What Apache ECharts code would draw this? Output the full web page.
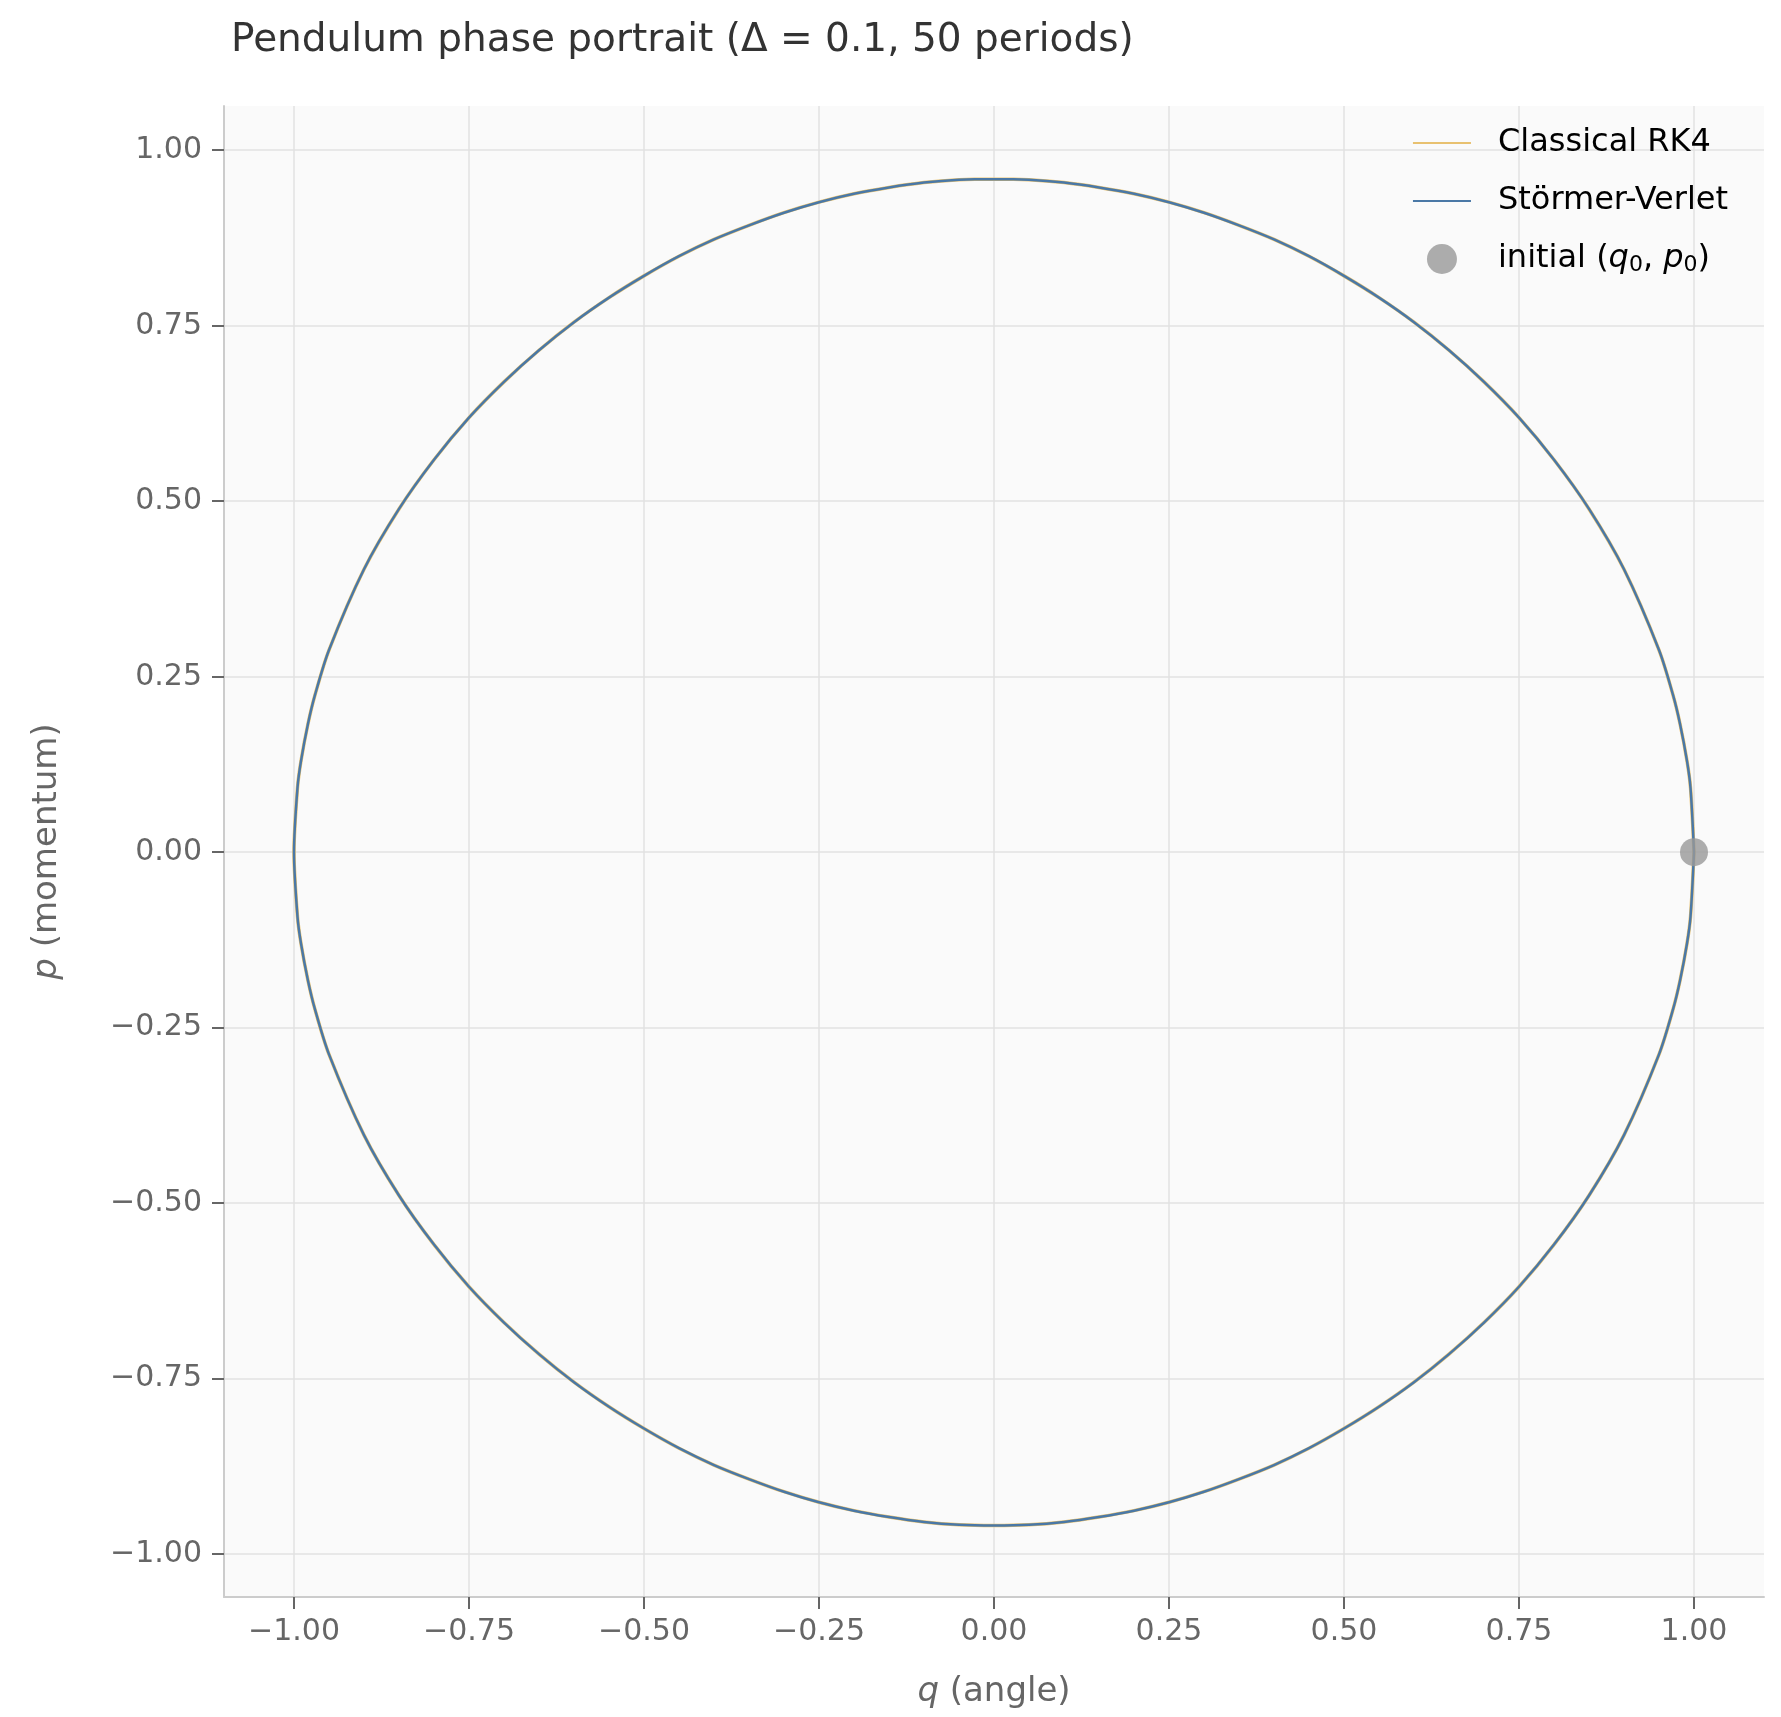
<!DOCTYPE html>
<html lang="en">
  <head>
    <meta charset="UTF-8" />
    <title>Pendulum phase portrait</title>
    <script src="https://cdn.jsdelivr.net/npm/echarts@6/dist/echarts.min.js"></script>
    <style>
      html, body { margin: 0; padding: 0; background: #fff; }
    </style>
  </head>
  <body>
    <div id="main" style="width: 1781px; height: 1717px"></div>
    <script type="text/javascript">
      // orbit: upper half (q from 1 to -1), then lower half (q from -1 to 1)
      var qUpper = [1, 0.995, 0.99, 0.98, 0.97, 0.95, 0.9, 0.85, 0.8, 0.75, 0.7, 0.65, 0.6, 0.55, 0.5, 0.45, 0.4, 0.35, 0.3, 0.25, 0.2, 0.15, 0.1, 0.05, 0,
        -0.05, -0.1, -0.15, -0.2, -0.25, -0.3, -0.35, -0.4, -0.45, -0.5, -0.55, -0.6, -0.65, -0.7, -0.75, -0.8, -0.85, -0.9, -0.95, -0.97, -0.98, -0.99, -0.995, -1];
      var pUpper = [0, 0.092, 0.130, 0.183, 0.224, 0.288, 0.403, 0.489, 0.559, 0.619, 0.670, 0.715, 0.755, 0.790, 0.821, 0.849, 0.873, 0.893, 0.911, 0.926, 0.938, 0.947, 0.954, 0.958, 0.959,
        0.958, 0.954, 0.947, 0.938, 0.926, 0.911, 0.893, 0.873, 0.849, 0.821, 0.790, 0.755, 0.715, 0.670, 0.619, 0.559, 0.489, 0.403, 0.288, 0.224, 0.183, 0.130, 0.092, 0];
      var qLower = [-1, -0.995, -0.99, -0.98, -0.97, -0.95, -0.9, -0.85, -0.8, -0.75, -0.7, -0.65, -0.6, -0.55, -0.5, -0.45, -0.4, -0.35, -0.3, -0.25, -0.2, -0.15, -0.1, -0.05, 0,
        0.05, 0.1, 0.15, 0.2, 0.25, 0.3, 0.35, 0.4, 0.45, 0.5, 0.55, 0.6, 0.65, 0.7, 0.75, 0.8, 0.85, 0.9, 0.95, 0.97, 0.98, 0.99, 0.995, 1];
      var pLower = [0, -0.092, -0.130, -0.183, -0.224, -0.288, -0.403, -0.489, -0.559, -0.619, -0.670, -0.715, -0.755, -0.790, -0.821, -0.849, -0.873, -0.893, -0.911, -0.926, -0.938, -0.947, -0.954, -0.958, -0.959,
        -0.958, -0.954, -0.947, -0.938, -0.926, -0.911, -0.893, -0.873, -0.849, -0.821, -0.790, -0.755, -0.715, -0.670, -0.619, -0.559, -0.489, -0.403, -0.288, -0.224, -0.183, -0.130, -0.092, 0];
      var initialPoint = [1, 0];
      var tickVals = [-1, -0.75, -0.5, -0.25, 0, 0.25, 0.5, 0.75, 1];

      var orbit = [];
      for (var i = 0; i < qUpper.length; i++) orbit.push([qUpper[i], pUpper[i]]);
      for (var j = 1; j < qLower.length; j++) orbit.push([qLower[j], pLower[j]]);

      function fmt(v) {
        var s = Math.abs(v).toFixed(2);
        return v < 0 ? "\u2212" + s : s;
      }

      var font = "DejaVu Sans";
      var myChart = echarts.init(document.getElementById("main"));

      function axisCommon() {
        return {
          type: "value",
          axisLine: { show: true, onZero: false, lineStyle: { color: "#cccccc", width: 2 } },
          axisTick: { show: true, length: 12, customValues: tickVals, lineStyle: { color: "#666", width: 2 } },
          axisLabel: { color: "#666", fontSize: 30, fontFamily: font, formatter: fmt, customValues: tickVals },
          splitLine: { show: true, lineStyle: { color: "#e2e2e2", width: 1.5 } },
          nameLocation: "middle",
          nameTextStyle: { color: "#666", fontSize: 34, fontFamily: font,
            rich: { i: { fontStyle: "italic", color: "#666", fontSize: 34, fontFamily: font } } },
        };
      }

      var xAxis = axisCommon();
      xAxis.min = -1.1; xAxis.max = 1.1;
      xAxis.name = "{i|q} (angle)";
      xAxis.nameGap = 78;
      xAxis.axisLabel.margin = 20;

      var yAxis = axisCommon();
      yAxis.min = -1.061; yAxis.max = 1.063;
      yAxis.name = "{i|p} (momentum)";
      yAxis.nameGap = 160;
      yAxis.axisLabel.margin = 22;

      var option = {
        animation: false,
        title: {
          text: "Pendulum phase portrait (\u0394 = 0.1, 50 periods)",
          left: 226, top: 16,
          textStyle: { color: "#333", fontSize: 39, fontWeight: "normal", fontFamily: font },
        },
        grid: { left: 224, right: 17, top: 106, bottom: 120, containLabel: false,
          show: true, backgroundColor: "#fafafa", borderWidth: 0 },
        legend: {
          right: 48, top: 122, orient: "vertical", itemGap: 26,
          itemWidth: 58, itemHeight: 30,
          textStyle: { color: "#000", fontSize: 32, fontFamily: font, padding: [0, 0, 0, 22],
            rich: {
              i: { fontStyle: "italic", fontSize: 32, fontFamily: font, color: "#000" },
              s: { fontSize: 22, fontFamily: font, color: "#000", padding: [12, 0, 0, 0] },
            } },
          data: [
            { name: "Classical RK4", icon: "path://M0,14 L58,14 L58,16 L0,16 Z" },
            { name: "Störmer-Verlet", icon: "path://M0,14 L58,14 L58,16 L0,16 Z" },
            { name: "initial", icon: "circle" },
          ],
          formatter: function (n) {
            return n === "initial" ? "initial ({i|q}{s|0}, {i|p}{s|0})" : n;
          },
        },
        xAxis: xAxis,
        yAxis: yAxis,
        series: [
          { name: "Classical RK4", type: "line", data: orbit, showSymbol: false, symbol: "none",
            smooth: 0.3,
            lineStyle: { color: "#e8c170", width: 3.5 }, itemStyle: { color: "#e8c170" } },
          { name: "Störmer-Verlet", type: "line", data: orbit, showSymbol: false, symbol: "none",
            smooth: 0.3,
            lineStyle: { color: "#4a78a6", width: 2.5 }, itemStyle: { color: "#4a78a6" } },
          { name: "initial", type: "scatter", data: [initialPoint], symbolSize: 28,
            itemStyle: { color: "#999999" }, z: 5 },
        ],
      };

      myChart.setOption(option);
    </script>
  </body>
</html>
